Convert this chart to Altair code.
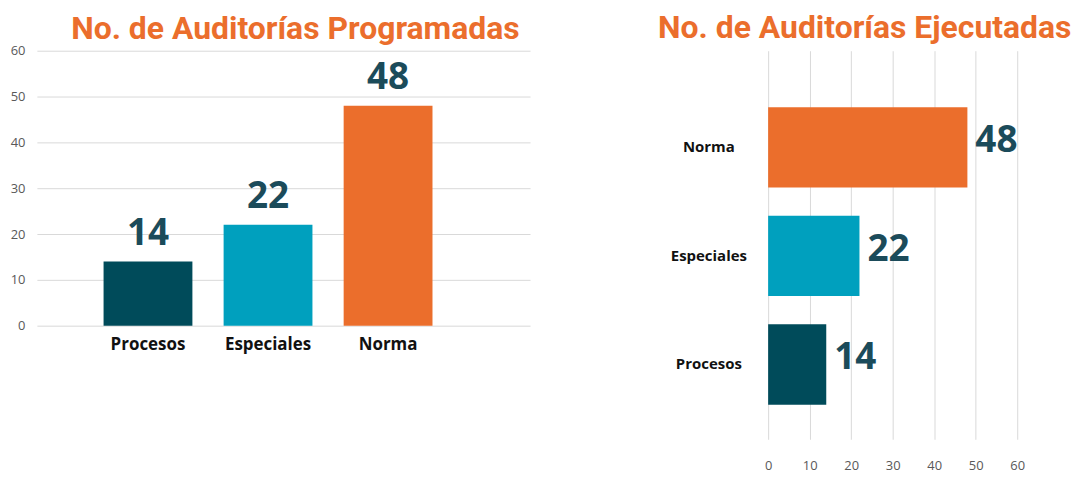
import altair as alt
import pandas as pd

categories = ["Procesos", "Especiales", "Norma"]
programadas = [14, 22, 48]
ejecutadas = [14, 22, 48]
bar_colors = ["#004B5A", "#00A0BE", "#EB6E2C"]
axis_ticks = [0, 10, 20, 30, 40, 50, 60]
title_left = "No. de Auditorías Programadas"
title_right = "No. de Auditorías Ejecutadas"

df_p = pd.DataFrame({"cat": categories, "val": programadas})
df_e = pd.DataFrame({"cat": categories, "val": ejecutadas})

color_scale = alt.Scale(domain=categories, range=bar_colors)
ORANGE = "#EB6E2C"
VALUE_COLOR = "#1B4B5A"

title_style = dict(font="Roboto", fontSize=32, fontWeight="bold", color=ORANGE,
                   anchor="middle", frame="group")

left_base = alt.Chart(df_p).encode(
    x=alt.X("cat:N", sort=categories,
            scale=alt.Scale(paddingInner=0.26, paddingOuter=0.684, align=0.406),
            axis=alt.Axis(title=None, labelAngle=0, ticks=False, domain=False,
                          labelFont="Open Sans", labelFontWeight="bold",
                          labelFontSize=17, labelColor="#111111", labelPadding=11)),
    y=alt.Y("val:Q", scale=alt.Scale(domain=[0, 60]),
            axis=alt.Axis(title=None, values=axis_ticks, ticks=False, domain=False,
                          labelFlush=False, labelPadding=12, labelFont="Open Sans",
                          labelFontSize=13, labelColor="#595959", gridColor="#D9D9D9")),
)
left = alt.layer(
    left_base.mark_bar().encode(color=alt.Color("cat:N", scale=color_scale, legend=None)),
    left_base.mark_text(baseline="bottom", dy=-9, font="Open Sans", fontSize=37,
                        fontWeight="bold", color=VALUE_COLOR).encode(text="val:Q"),
).properties(width=495, height=276,
             title=alt.TitleParams(title_left, dx=12, offset=-1, **title_style))

order_r = ["Norma", "Especiales", "Procesos"]
right_base = alt.Chart(df_e).encode(
    y=alt.Y("cat:N", sort=order_r,
            scale=alt.Scale(range=[11, 401], paddingInner=0.26, paddingOuter=0.42),
            axis=alt.Axis(title=None, ticks=False, domain=False, labelAlign="center",
                          labelPadding=60, labelFont="Open Sans", labelFontWeight="bold",
                          labelFontSize=15, labelColor="#111111")),
    x=alt.X("val:Q", scale=alt.Scale(domain=[0, 60]),
            axis=alt.Axis(title=None, values=axis_ticks, ticks=False, domain=False,
                          labelFlush=False, labelPadding=9, labelFont="Open Sans",
                          labelFontSize=13, labelColor="#595959", gridColor="#D9D9D9")),
)
right = alt.layer(
    right_base.mark_bar().encode(color=alt.Color("cat:N", scale=color_scale, legend=None)),
    right_base.mark_text(align="left", baseline="middle", dx=8, dy=-6, font="Open Sans",
                         fontSize=37, fontWeight="bold", color=VALUE_COLOR).encode(text="val:Q"),
).properties(width=250, height=401,
             title=alt.TitleParams(title_right, dx=-28, offset=6, **title_style))

chart = alt.hconcat(left, right, spacing=128).configure_view(stroke=None).properties(
    padding={"left": 2, "top": 3, "right": 0, "bottom": 0})

chart.save("out.html", embed_options={"renderer": "svg", "actions": False})
